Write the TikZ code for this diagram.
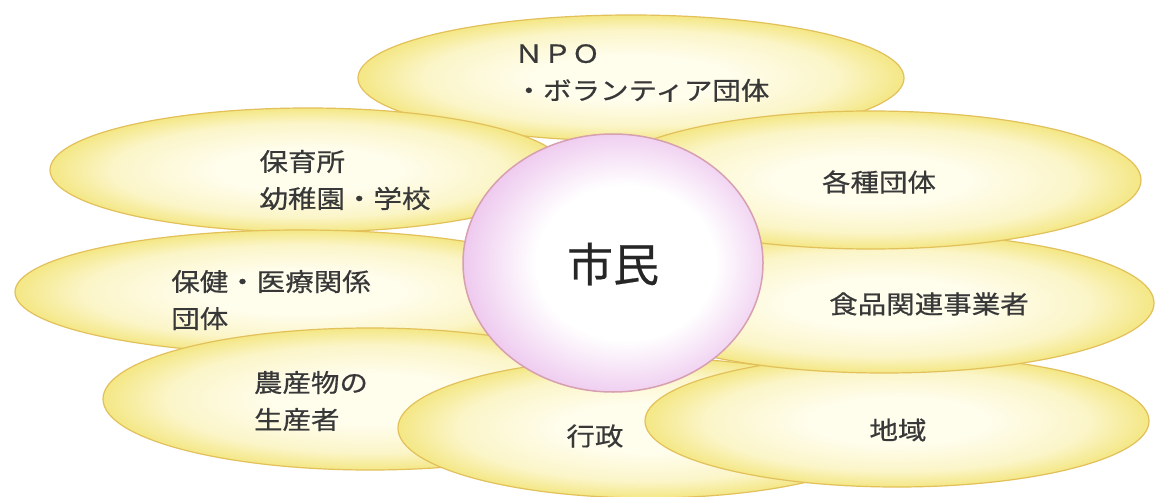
\documentclass[tikz,border=0pt]{standalone}
\usepackage{fontspec}
\usetikzlibrary{shapes.geometric}
\newfontfamily\jpfont{Noto Sans CJK JP}[FakeBold=0.4]
\newfontfamily\jplabel{Noto Sans CJK JP}[FakeStretch=1.14, FakeBold=0.5]
\definecolor{petalin}{HTML}{FFFDEC}
\definecolor{petalmid}{HTML}{FBF5C8}
\definecolor{petalout}{HTML}{F4E785}
\definecolor{petalrim}{HTML}{E2C05A}
\definecolor{ballpink}{HTML}{EDC6EE}
\definecolor{ballrim}{HTML}{D6A0B0}
\definecolor{textgray}{HTML}{383838}
\pgfdeclareradialshading{petalshade}{\pgfpoint{0bp}{0bp}}{color(0bp)=(petalin); color(9bp)=(petalin); color(19bp)=(petalmid); color(25bp)=(petalout); color(50bp)=(petalout)}
\pgfdeclareradialshading{ballshade}{\pgfpoint{3bp}{0bp}}{color(0bp)=(white); color(15bp)=(white); color(27bp)=(ballpink); color(50bp)=(ballpink)}
\begin{document}
\begin{tikzpicture}[x=1pt,y=-1pt,
  petal/.style={ellipse, draw=petalrim, line width=1.2pt, shade, shading=petalshade, inner sep=0pt},
  ball/.style={ellipse, draw=ballrim, line width=1.5pt, shade, shading=ballshade, inner sep=0pt},
  lbl/.style={font=\jplabel\fontsize{25}{37}\selectfont, text=textgray, align=left, inner sep=0pt},
  bigl/.style={font=\jpfont\fontsize{46}{50}\selectfont, text=black!85, inner sep=0pt}
]
\useasboundingbox[fill=white] (0,0) rectangle (1155,497);
% petals, back to front
\node[petal, minimum width=546pt, minimum height=126pt] (npo) at (631,78) {};
\node[petal, minimum width=516pt, minimum height=124pt] (hoiku) at (308,170) {};
\node[petal, minimum width=570pt, minimum height=124pt] (hoken) at (300,292) {};
\node[petal, minimum width=534pt, minimum height=142pt] (nousan) at (370,399) {};
\node[petal, minimum width=500pt, minimum height=140pt] (gyosei) at (648,428) {};
\node[petal, minimum width=504pt, minimum height=132pt] (chiiki) at (897,421) {};
\node[petal, minimum width=540pt, minimum height=140pt] (shokuhin) at (884,303) {};
\node[petal, minimum width=540pt, minimum height=138pt] (kakushu) at (871,180) {};
% centre
\node[ball, minimum width=300pt, minimum height=258pt] (shimin) at (613,263) {};
% labels
\node[lbl] (tnpo) at (642,73) {ＮＰＯ\\・ボランティア団体};
\node[lbl] (thoiku) at (345,180) {保育所\\幼稚園・学校};
\node[lbl] (tkakushu) at (879,182) {各種団体};
\node[lbl] (thoken) at (271,300) {保健・医療関係\\団体};
\node[lbl] (tshokuhin) at (929,304) {食品関連事業者};
\node[lbl] (tnousan) at (311,401) {農産物の\\生産者};
\node[lbl] (tgyosei) at (595,436) {行政};
\node[lbl] (tchiiki) at (898,430) {地域};
\node[bigl] (tshimin) at (613,264) {市民};
\end{tikzpicture}
\end{document}
